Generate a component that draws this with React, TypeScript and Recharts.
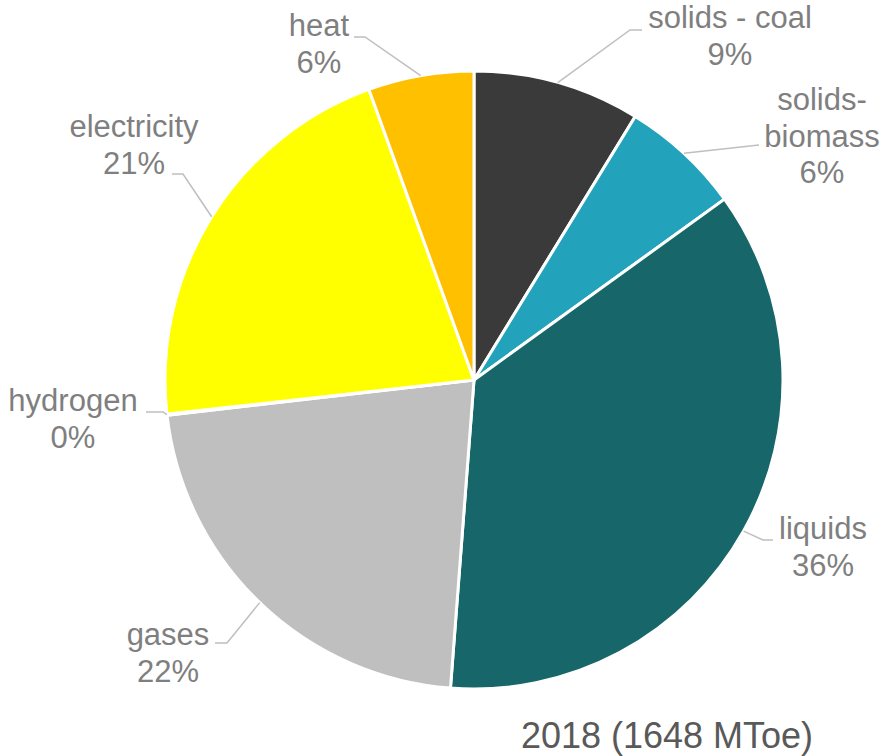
import React from 'react';
import { Cell, Pie, PieChart } from 'recharts';

const categories = [
  'solids - coal',
  'solids-\nbiomass',
  'liquids',
  'gases',
  'hydrogen',
  'electricity',
  'heat',
];
const values = [144, 104, 596, 362, 1, 350, 91];
const colors = ['#3a3a3a', '#22a2bb', '#176669', '#bfbfbf', '#7f7f7f', '#ffff00', '#ffc000'];
const title = '2018 (1648 MToe)';

// label anchor (text centre, first baseline) and leader elbow/end, relative to pie centre
const labelLayout = [
  { tx: 256, ty: -352, ex: 156, ey: -350, fx: 168, fy: -350 },
  { tx: 348, ty: -270, ex: 285, ey: -235, fx: 285, fy: -235 },
  { tx: 349, ty: 159, ex: 289, ey: 160, fx: 299, fy: 160 },
  { tx: -306, ty: 265, ex: -247, ey: 263, fx: -259, fy: 263 },
  { tx: -401, ty: 31, ex: -311, ey: 32, fx: -328, fy: 32 },
  { tx: -340, ty: -243, ex: -291, ey: -206, fx: -302, fy: -206 },
  { tx: -155, ty: -344, ex: -109, ey: -343, fx: -120, fy: -343 },
];

const data = categories.map((name, i) => ({ name, value: values[i] }));

const RAD = Math.PI / 180;
const FONT = '"Liberation Sans", Arial, sans-serif';

function renderLabel(props: any) {
  const { cx, cy, midAngle, outerRadius, percent, index, name } = props;
  const l = labelLayout[index];
  const sx = cx + outerRadius * Math.cos(-midAngle * RAD);
  const sy = cy + outerRadius * Math.sin(-midAngle * RAD);
  const lines = [...String(name).split('\n'), `${Math.round(percent * 100)}%`];
  return (
    <g key={`lbl-${index}`}>
      <polyline
        points={`${sx},${sy} ${cx + l.ex},${cy + l.ey} ${cx + l.fx},${cy + l.fy}`}
        fill="none"
        stroke="#bfbfbf"
        strokeWidth={1.5}
      />
      <text
        x={cx + l.tx}
        y={cy + l.ty}
        textAnchor="middle"
        fill="#7f7f7f"
        fontSize={31}
        fontFamily={FONT}
      >
        {lines.map((t, k) => (
          <tspan key={k} x={cx + l.tx} dy={k === 0 ? 0 : 36.5}>
            {t}
          </tspan>
        ))}
      </text>
    </g>
  );
}

export default function App() {
  return (
    <div style={{ position: 'absolute', left: 0, top: 0, width: 885, height: 756, background: '#fff' }}>
      <PieChart width={885} height={756} margin={{ top: 0, right: 0, bottom: 0, left: 0 }}>
        <Pie
          data={data}
          dataKey="value"
          nameKey="name"
          cx={474}
          cy={380}
          outerRadius={309}
          startAngle={90}
          endAngle={-270}
          stroke="#ffffff"
          strokeWidth={3}
          label={renderLabel}
          labelLine={false}
          isAnimationActive={false}
        >
          {data.map((d, i) => (
            <Cell key={d.name} fill={colors[i]} />
          ))}
        </Pie>
      </PieChart>
      <svg width={885} height={756} style={{ position: 'absolute', left: 0, top: 0, pointerEvents: 'none' }}>
        <text x={667} y={748} textAnchor="middle" fill="#595959" fontSize={36} fontFamily={FONT}>
          {title}
        </text>
      </svg>
    </div>
  );
}
